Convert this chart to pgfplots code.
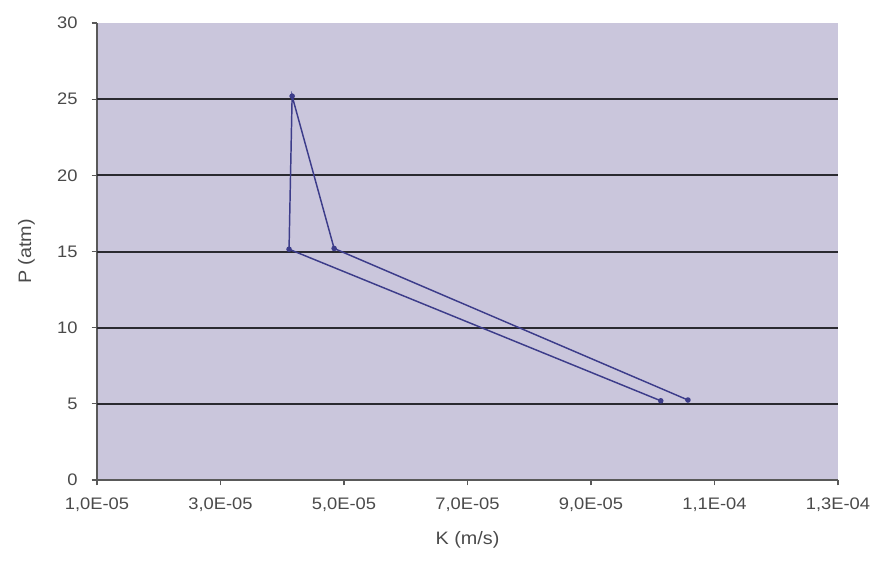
\documentclass[border=0pt]{standalone}
\usepackage{pgfplots}
\pgfplotsset{compat=1.18}
\usepackage{fontspec}
\setmainfont{Liberation Sans}
\newfontfamily\tickfont[FakeStretch=1.1]{Liberation Sans}
\definecolor{plotbg}{HTML}{CAC6DC}
\definecolor{linec}{HTML}{3C3C8A}
\definecolor{txt}{HTML}{4A4A4A}
\definecolor{gridc}{HTML}{2A2A30}
\begin{document}
\begin{tikzpicture}
\path[use as bounding box] (-72.75pt,-63.75pt) rectangle (586.5pt,360pt);
\begin{axis}[
  at={(0,0)}, anchor=south west,
  scale only axis,
  width=555.75pt, height=342.75pt,
  xmin=1e-5, xmax=1.3e-4,
  ymin=0, ymax=30,
  xtick={1e-5,3e-5,5e-5,7e-5,9e-5,1.1e-4,1.3e-4},
  xticklabels={{1,0E-05},{3,0E-05},{5,0E-05},{7,0E-05},{9,0E-05},{1,1E-04},{1,3E-04}},
  scaled x ticks=false,
  ytick={0,30},
  extra y ticks={5,10,15,20,25},
  extra y tick style={grid=major},
  grid style={gridc, line width=1.5pt},
  axis background/.style={fill=plotbg},
  axis line style={black!65, line width=0.9pt},
  axis x line*=bottom, axis y line*=left,
  major tick length=4pt,
  tick style={black!65, line width=0.8pt},
  tick align=outside,
  xticklabel style={yshift=-6pt},
  yticklabel style={xshift=-7pt},
  every tick label/.append style={font=\tickfont\fontsize{12.5}{14}\selectfont, text=txt},
  /pgf/number format/assume math mode=true,
  xlabel={K (m/s)}, ylabel={P (atm)},
  label style={font=\tickfont\fontsize{13.5}{15}\selectfont, text=txt},
  xlabel style={yshift=-8pt},
  ylabel style={yshift=2pt},
]
\addplot[color=linec, line width=1.1pt, mark=*, mark size=1.5pt] coordinates {
  (1.013e-4,5.2) (4.11e-5,15.15) (4.16e-5,25.2) (4.84e-5,15.2) (1.057e-4,5.25)
};
\end{axis}
\end{tikzpicture}
\end{document}
